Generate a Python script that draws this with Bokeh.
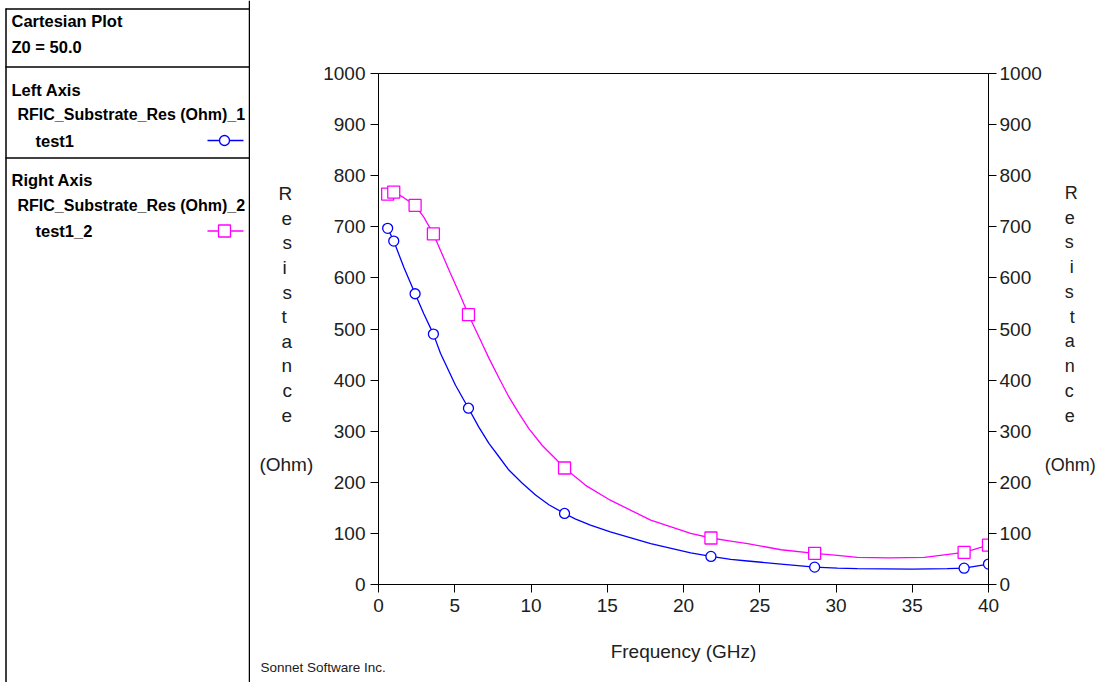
from bokeh.plotting import figure
from bokeh.models import Range1d, LinearAxis, FixedTicker, Title
from bokeh.layouts import row, column
from bokeh.embed import file_html
from bokeh.resources import INLINE
from bokeh.core.properties import value

# ---- data ----
freq = [0.6, 1.0, 2.4, 3.6, 5.9, 12.2, 21.8, 28.6, 38.4, 40.0]
res_left = [697, 672, 569, 490, 345, 139, 55, 34, 32, 40]      # test1 (left axis)
res_right = [764, 768, 742, 686, 528, 228, 91, 61, 63, 77]     # test1_2 (right axis)

# smooth traces as drawn in the reference
curve_freq_left = [0.6, 1.0, 1.66, 2.4, 2.97, 3.6, 4.07, 5.05, 5.9, 6.58, 7.24, 7.9, 8.55, 9.43,
                   10.3, 11.17, 12.2, 12.93, 13.9, 15.2, 17.85, 20.47, 21.8, 23.1, 24.2, 26.4,
                   28.6, 30.1, 31.4, 35.0, 37.3, 38.4, 40.0]
curve_left = [697, 672, 621, 569, 530, 490, 452, 390, 345, 308, 276, 250, 224, 198,
              175, 156, 139, 128, 116, 103, 80, 62, 55, 49, 46, 40,
              34, 32, 31, 30, 31, 32, 40]
curve_freq_right = [0.6, 1.0, 1.66, 2.4, 2.97, 3.6, 4.7, 5.3, 5.9, 6.69, 7.24, 7.9, 8.55, 9.21,
                    9.86, 10.74, 11.61, 12.2, 13.58, 15.2, 17.85, 20.47, 21.8, 23.1, 24.2, 26.4,
                    28.6, 30.1, 31.4, 33.5, 35.8, 38.4, 40.0]
curve_right = [764, 768, 757, 742, 719, 686, 610, 570, 528, 478, 443, 404, 367, 335,
               305, 272, 246, 228, 194, 165, 126, 100, 91, 85, 80, 68,
               61, 57, 53, 52, 53, 63, 77]

x_ticks = [0, 5, 10, 15, 20, 25, 30, 35, 40]
y_ticks = [0, 100, 200, 300, 400, 500, 600, 700, 800, 900, 1000]

x_label = "Frequency (GHz)"
y_label_letters = list("Resistance")
y_label_unit = "(Ohm)"
footer = "Sonnet Software Inc."

panel_heads = ["Cartesian Plot", "Z0 = 50.0", "Left Axis", "test1", "Right Axis", "test1_2"]
panel_series = ["RFIC_Substrate_Res (Ohm)_1", "RFIC_Substrate_Res (Ohm)_2"]

BLUE = "#0000ff"
MAGENTA = "#ff00ff"
FONT = "Liberation Sans"
TXT = "#202020"
NB = "\u00a0"

# ---- left info panel (coordinates are page pixels) ----
lp = figure(width=250, height=682, x_range=Range1d(0, 250), y_range=Range1d(682, 0),
            output_backend="svg", toolbar_location=None, min_border=0,
            x_axis_location=None, y_axis_location=None, outline_line_color=None)
lp.grid.visible = False

lp.text(x=[11, 11, 11, 35, 11, 35],
        y=[20.5, 46, 89, 140, 179.5, 230],
        text=panel_heads, text_font=value(FONT), text_font_style="bold",
        text_font_size="16.5px", text_color="black", text_baseline="middle")
lp.text(x=[17, 17], y=[114, 204.5], text=panel_series, text_font=value(FONT),
        text_font_style="bold", text_font_size="16px", text_color="black", text_baseline="middle")

lp.segment(x0=[5, 5, 5, 5.5], y0=[8.5, 66.5, 157.5, 8],
           x1=[249, 249, 249, 5.5], y1=[8.5, 66.5, 157.5, 682],
           line_color="black", line_width=1.5)
lp.segment(x0=[249.5], y0=[0], x1=[249.5], y1=[682], line_color="black", line_width=2.5)

lp.line([207, 243], [140, 140], line_color=BLUE, line_width=1.3)
lp.scatter([224], [140], marker="circle", size=10, line_color=BLUE, fill_color="white", line_width=1.3)
lp.line([207, 243], [230.5, 230.5], line_color=MAGENTA, line_width=1.3)
lp.scatter([224], [230.5], marker="square", size=12, line_color=MAGENTA, fill_color="white", line_width=1.3)

# ---- main chart ----
p = figure(width=848, height=682, x_range=Range1d(0, 40), y_range=Range1d(0, 1000),
           output_backend="svg", toolbar_location=None,
           min_border_left=128, min_border_right=110, min_border_top=73, min_border_bottom=98,
           outline_line_color="black", outline_line_width=1)
p.grid.visible = False
p.extra_y_ranges = {"right": Range1d(0, 1000)}
p.add_layout(LinearAxis(y_range_name="right"), "right")

for ax in p.xaxis + p.yaxis:
    ax.axis_line_color = "black"
    ax.axis_line_width = 1
    ax.major_tick_line_color = "black"
    ax.major_tick_out = 8
    ax.major_tick_in = 0
    ax.minor_tick_line_color = None
    ax.major_label_text_font = FONT
    ax.major_label_text_font_size = "19px"
    ax.major_label_text_color = TXT
    ax.major_label_standoff = 5
    ax.axis_label_text_font = FONT
    ax.axis_label_text_font_size = "19px"
    ax.axis_label_text_font_style = "normal"
    ax.axis_label_text_color = TXT

p.xaxis.ticker = FixedTicker(ticks=x_ticks)
p.xaxis.axis_label = x_label
p.xaxis.major_label_standoff = 6
p.xaxis.axis_label_standoff = 26

# stacked letters: padded with no-break spaces so each letter sits centred over "(Ohm)"
pads = {"i": 5, "t": 5}
left_lines = [ch + NB * pads.get(ch, 4) for ch in y_label_letters] + ["", y_label_unit]
right_lines = [NB * pads.get(ch, 4) + ch for ch in y_label_letters] + ["", y_label_unit]

yl, yr = p.yaxis[0], p.yaxis[1]
for ax in (yl, yr):
    ax.ticker = FixedTicker(ticks=y_ticks)
    if "axis_label_orientation" in ax.properties():
        ax.axis_label_orientation = "horizontal"
yl.axis_label = "\n".join(left_lines)
yl.axis_label_text_line_height = 1.172
yl.axis_label_standoff = 7
yr.axis_label = "\n".join(right_lines)
yr.axis_label_text_font_size = "18px"
yr.axis_label_text_line_height = 1.237
yr.axis_label_standoff = 0
yr.major_label_standoff = 3

p.line(curve_freq_left, curve_left, line_color=BLUE, line_width=1.3)
p.scatter(freq, res_left, marker="circle", size=10, line_color=BLUE, fill_color="white", line_width=1.3)
p.line(curve_freq_right, curve_right, line_color=MAGENTA, line_width=1.3, y_range_name="right")
p.scatter(freq, res_right, marker="square", size=12, line_color=MAGENTA, fill_color="white",
          line_width=1.3, y_range_name="right")

p.add_layout(Title(text=footer, align="left", offset=-118, standoff=-14,
                   text_font=FONT, text_font_size="13.5px", text_font_style="normal",
                   text_color=TXT), "below")

layout = row(column(lp), p)
open("out.html", "w").write(file_html(layout, INLINE))
